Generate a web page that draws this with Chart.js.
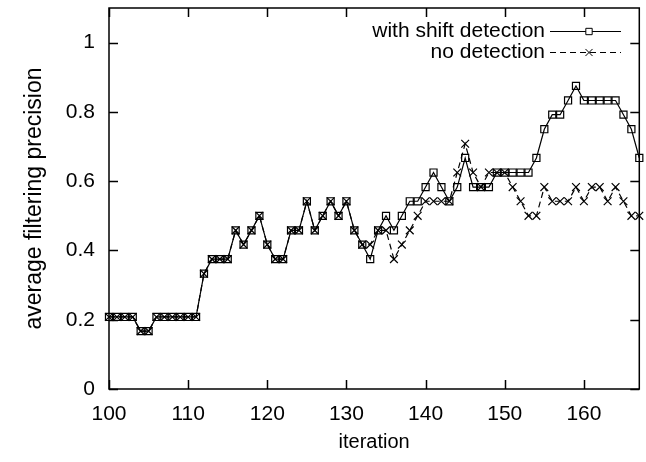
<!DOCTYPE html>
<html>
<head>
<meta charset="utf-8">
<script src="https://cdn.jsdelivr.net/npm/chart.js@4"></script>
<style>
  html, body { margin: 0; padding: 0; background: #fff; }
  #wrap { width: 646px; height: 462px; }
</style>
</head>
<body>
<div id="wrap"><canvas id="precisionChart"></canvas></div>
<script>
// iterations 100..167
const iterations = [
  100, 101, 102, 103, 104, 105, 106, 107, 108, 109,
  110, 111, 112, 113, 114, 115, 116, 117, 118, 119,
  120, 121, 122, 123, 124, 125, 126, 127, 128, 129,
  130, 131, 132, 133, 134, 135, 136, 137, 138, 139,
  140, 141, 142, 143, 144, 145, 146, 147, 148, 149,
  150, 151, 152, 153, 154, 155, 156, 157, 158, 159,
  160, 161, 162, 163, 164, 165, 166, 167
];

const withShift = [
  0.208, 0.208, 0.208, 0.208, 0.167, 0.167, 0.208, 0.208, 0.208, 0.208,
  0.208, 0.208, 0.333, 0.375, 0.375, 0.375, 0.458, 0.417, 0.458, 0.5,
  0.417, 0.375, 0.375, 0.458, 0.458, 0.542, 0.458, 0.5, 0.542, 0.5,
  0.542, 0.458, 0.417, 0.375, 0.458, 0.5, 0.458, 0.5, 0.542, 0.542,
  0.583, 0.625, 0.583, 0.542, 0.583, 0.667, 0.583, 0.583, 0.583, 0.625,
  0.625, 0.625, 0.625, 0.625, 0.667, 0.75, 0.792, 0.792, 0.833, 0.875,
  0.833, 0.833, 0.833, 0.833, 0.833, 0.792, 0.75, 0.667
];

const noDetection = [
  0.208, 0.208, 0.208, 0.208, 0.167, 0.167, 0.208, 0.208, 0.208, 0.208,
  0.208, 0.208, 0.333, 0.375, 0.375, 0.375, 0.458, 0.417, 0.458, 0.5,
  0.417, 0.375, 0.375, 0.458, 0.458, 0.542, 0.458, 0.5, 0.542, 0.5,
  0.542, 0.458, 0.417, 0.417, 0.458, 0.458, 0.375, 0.417, 0.458, 0.5,
  0.542, 0.542, 0.542, 0.542, 0.625, 0.708, 0.625, 0.583, 0.625, 0.625,
  0.625, 0.583, 0.542, 0.5, 0.5, 0.583, 0.542, 0.542, 0.542, 0.583,
  0.542, 0.583, 0.583, 0.542, 0.583, 0.542, 0.5, 0.5
];

const xTicks = [100, 110, 120, 130, 140, 150, 160];
const yTicks = [0, 0.2, 0.4, 0.6, 0.8, 1];

const seriesLabels = ['with shift detection', 'no detection'];

const FONT = 'Liberation Sans, Arial, Helvetica, sans-serif';

function toPoints(values) {
  return values.map((v, i) => ({ x: iterations[i], y: v }));
}

// gnuplot style: ticks pointing inward on all four sides
const inwardTicks = {
  id: 'inwardTicks',
  afterDatasetsDraw(chart) {
    const { ctx, chartArea: a, scales } = chart;
    const len = 9;
    ctx.save();
    ctx.strokeStyle = '#000';
    ctx.lineWidth = 1.5;
    ctx.beginPath();
    xTicks.forEach(t => {
      const px = Math.round(scales.x.getPixelForValue(t)) + 0.5;
      ctx.moveTo(px, a.bottom); ctx.lineTo(px, a.bottom - len);
      ctx.moveTo(px, a.top); ctx.lineTo(px, a.top + len);
    });
    yTicks.forEach(t => {
      const py = Math.round(scales.y.getPixelForValue(t)) + 0.5;
      ctx.moveTo(a.left, py); ctx.lineTo(a.left + len, py);
      ctx.moveTo(a.right, py); ctx.lineTo(a.right - len, py);
    });
    ctx.stroke();
    ctx.strokeRect(a.left, a.top, a.right - a.left, a.bottom - a.top);
    ctx.restore();
  }
};

// gnuplot style key: right aligned text followed by a line sample
const gnuplotKey = {
  id: 'gnuplotKey',
  afterDraw(chart) {
    const { ctx } = chart;
    const textRight = 545, x0 = 550, x1 = 621, xm = 589;
    const rows = [31, 52];
    ctx.save();
    ctx.font = '21px ' + FONT;
    ctx.textAlign = 'right';
    ctx.textBaseline = 'middle';
    chart.data.datasets.forEach((ds, i) => {
      const y = rows[i];
      ctx.fillStyle = '#000';
      ctx.fillText(ds.label, textRight, y);
      ctx.strokeStyle = '#000';
      ctx.lineWidth = 1;
      ctx.setLineDash(ds.borderDash || []);
      ctx.beginPath();
      ctx.moveTo(x0, y + 0.5); ctx.lineTo(x1, y + 0.5);
      ctx.stroke();
      ctx.setLineDash([]);
      ctx.fillStyle = '#fff';
      Chart.helpers.drawPoint(ctx, {
        pointStyle: ds.pointStyle,
        radius: ds.pointRadius - 0.5,
        borderWidth: 1
      }, xm, y + 0.5);
    });
    ctx.restore();
  }
};

new Chart(document.getElementById('precisionChart'), {
  type: 'line',
  data: {
    datasets: [
      {
        label: seriesLabels[0],
        data: toPoints(withShift),
        borderColor: '#000',
        borderWidth: 1.2,
        pointStyle: 'rect',
        pointRadius: 5,
        pointBorderWidth: 1.2,
        pointBorderColor: '#000',
        pointBackgroundColor: 'rgba(0,0,0,0)',
        tension: 0,
        clip: false
      },
      {
        label: seriesLabels[1],
        data: toPoints(noDetection),
        borderColor: '#000',
        borderWidth: 1.2,
        borderDash: [6, 4],
        pointStyle: 'crossRot',
        pointRadius: 5.5,
        pointBorderWidth: 1.2,
        pointBorderColor: '#000',
        tension: 0,
        clip: false
      }
    ]
  },
  options: {
    responsive: true,
    maintainAspectRatio: false,
    animation: false,
    events: [],
    layout: { padding: { top: 8, right: 1, left: 0, bottom: 0 } },
    plugins: {
      legend: { display: false },
      tooltip: { enabled: false },
      title: { display: false }
    },
    scales: {
      x: {
        type: 'linear',
        min: 100,
        max: 167,
        afterBuildTicks: scale => { scale.ticks = xTicks.map(v => ({ value: v })); },
        afterFit: scale => {
          scale.height = 73;
          scale.paddingLeft = 0;
          scale.paddingRight = 0;
        },
        border: { display: false },
        grid: { display: false, drawTicks: false },
        ticks: {
          color: '#000',
          font: { family: FONT, size: 21 },
          padding: 13,
          maxRotation: 0
        },
        title: {
          display: true,
          text: 'iteration',
          color: '#000',
          font: { family: FONT, size: 20 },
          padding: { top: 0, bottom: 8 }
        }
      },
      y: {
        min: 0,
        max: 1.1,
        afterBuildTicks: scale => { scale.ticks = yTicks.map(v => ({ value: v })); },
        afterFit: scale => {
          scale.width = 109;
          scale.paddingTop = 0;
          scale.paddingBottom = 0;
        },
        border: { display: false },
        grid: { display: false, drawTicks: false },
        ticks: {
          color: '#000',
          font: { family: FONT, size: 21 },
          padding: 14,
          callback: v => String(v)
        },
        title: {
          display: true,
          text: 'average filtering precision',
          color: '#000',
          font: { family: FONT, size: 23 },
          padding: { top: 21, bottom: 0 }
        }
      }
    }
  },
  plugins: [inwardTicks, gnuplotKey]
});
</script>
</body>
</html>
